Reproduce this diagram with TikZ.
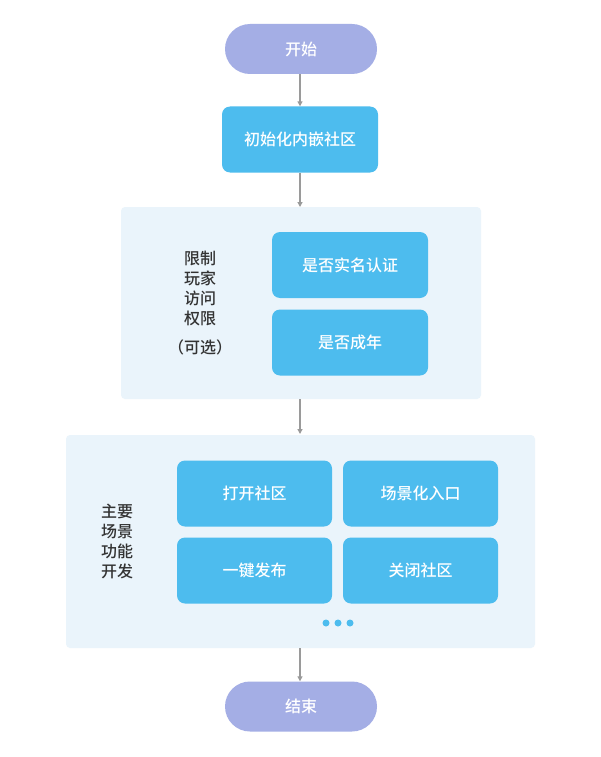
\documentclass[tikz,border=0pt]{standalone}
\usepackage{fontspec}
\newfontfamily\cjk{Noto Sans CJK SC}[UprightFont={* Medium}]
\usetikzlibrary{arrows.meta}
\definecolor{pillc}{HTML}{A4AEE5}
\definecolor{boxc}{HTML}{4DBCEE}
\definecolor{panelc}{HTML}{EAF4FB}
\definecolor{arrc}{HTML}{9A9A9A}
\definecolor{txtc}{HTML}{333333}
\tikzset{
  pill/.style={fill=pillc, rounded corners=25pt, minimum width=152pt, minimum height=50pt, text=white, font=\cjk\fontsize{16}{20}\selectfont, inner sep=0pt},
  bluebox/.style={fill=boxc, rounded corners=8pt, minimum width=155pt, minimum height=66pt, text=white, font=\cjk\fontsize{16}{20}\selectfont, inner sep=0pt},
  panel/.style={fill=panelc, rounded corners=4pt, inner sep=0pt},
  side/.style={text=txtc, font=\cjk\fontsize{16}{20}\selectfont, align=center, inner sep=0pt},
  flow/.style={draw=arrc, line width=1.2pt, -{Triangle[length=5pt,width=5pt]}},
  dotc/.style={fill=boxc, circle, minimum size=7pt, inner sep=0pt}
}
\begin{document}
\begin{tikzpicture}[x=1pt,y=-1pt]
\useasboundingbox (0,0) rectangle (600,757);
\fill[white] (0,0) rectangle (600,757);
% panels
\node[panel, minimum width=360pt, minimum height=192pt] (p1) at (301,303) {};
\node[panel, minimum width=469pt, minimum height=213pt] (p2) at (300.5,541.5) {};
% start/end
\node[pill] (start) at (301,49) {开始};
\node[bluebox, minimum width=156pt] (init) at (300,139.5) {初始化内嵌社区};
\node[bluebox, minimum width=156pt] (real) at (350,265) {是否实名认证};
\node[bluebox, minimum width=156pt] (adult) at (350,342.5) {是否成年};
\node[side] (lim) at (200,288) {限制\\玩家\\访问\\权限};
\node[side] (opt) at (200,347) {（可选）};
\node[bluebox] (open) at (254.5,493.5) {打开社区};
\node[bluebox] (scene) at (420.5,493.5) {场景化入口};
\node[bluebox] (pub) at (254.5,570.5) {一键发布};
\node[bluebox] (close) at (420.5,570.5) {关闭社区};
\node[side] (main) at (117,541) {主要\\场景\\功能\\开发};
\node[dotc] (d1) at (326,623) {};
\node[dotc] (d2) at (338,623) {};
\node[dotc] (d3) at (350,623) {};
\node[pill] (end) at (301,706.5) {结束};
% arrows
\coordinate (a1) at (300,207);
\coordinate (a2) at (300,399);
\coordinate (a3) at (300,434);
\coordinate (a4) at (300,648);
\draw[flow] (start.south -| 300,0) -- (init.north);
\draw[flow] (init.south) -- (a1);
\draw[flow] (a2) -- (a3);
\draw[flow] (a4) -- (end.north -| 300,0);
\end{tikzpicture}
\end{document}
